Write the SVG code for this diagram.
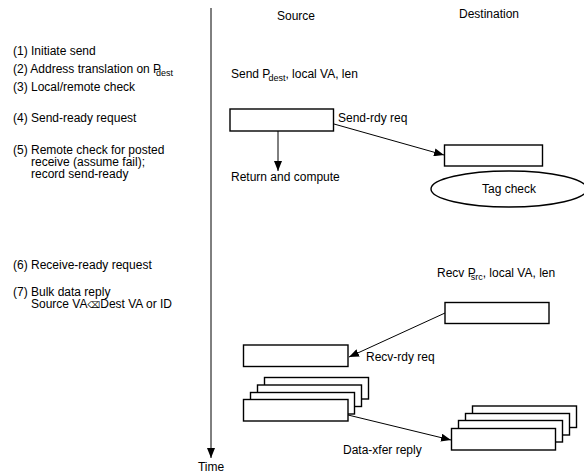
<svg xmlns="http://www.w3.org/2000/svg" width="584" height="474" viewBox="0 0 584 474">
<defs>
<marker id="arr" markerUnits="userSpaceOnUse" markerWidth="10" markerHeight="8" refX="10" refY="4" orient="auto">
<path d="M0,0 L10,4 L0,8 Z" fill="#000"/>
</marker>
<style>
text{font-family:"Liberation Sans",Arial,sans-serif;font-size:12px;fill:#000}
.sub{font-size:9px}
.box{fill:#fff;stroke:#000;stroke-width:1.4}
.ln{fill:none;stroke:#000;stroke-width:1}
</style>
</defs>
<rect width="584" height="474" fill="#fff"/>
<g id="headers">
<text x="296" y="20" text-anchor="middle">Source</text>
<text x="489" y="18" text-anchor="middle">Destination</text>
</g>
<g id="steps">
<text x="13" y="55">(1) Initiate send</text>
<text x="13" y="73">(2) Address translation on P<tspan class="sub" dx="-5" dy="3">dest</tspan></text>
<text x="13" y="91">(3) Local/remote check</text>
<text x="13" y="122">(4) Send-ready request</text>
<text x="13" y="154">(5) Remote check for posted</text>
<text x="31" y="166">receive (assume fail);</text>
<text x="31" y="178">record send-ready</text>
<text x="13" y="269">(6) Receive-ready request</text>
<text x="13" y="296">(7) Bulk data reply</text>
<text x="31" y="308">Source VA<tspan font-family="DejaVu Sans" font-size="9">⌫</tspan>Dest VA or ID</text>
</g>
<g id="time">
<text x="211" y="471" text-anchor="middle">Time</text>
</g>
<g id="send-label">
<text x="231" y="78">Send P<tspan class="sub" dx="-2" dy="3">dest</tspan><tspan dy="-3">, local VA, len</tspan></text>
</g>
<g id="src-box1">
<rect class="box" x="230" y="109" width="103.5" height="22"/>
</g>
<g id="return-label">
<text x="231" y="181">Return and compute</text>
</g>
<g id="dst-box1">
<rect class="box" x="444.5" y="145" width="98" height="21"/>
</g>
<g id="tag-check">
<ellipse class="box" cx="509" cy="189" rx="78" ry="18"/>
<text x="509" y="193" text-anchor="middle">Tag check</text>
</g>
<g id="recv-label">
<text x="437" y="277">Recv P<tspan class="sub" dx="-5" dy="3">src</tspan><tspan dy="-3">, local VA, len</tspan></text>
</g>
<g id="dst-box2">
<rect class="box" x="445" y="302.5" width="104" height="21"/>
</g>
<g id="src-box2">
<rect class="box" x="243.5" y="345" width="104.5" height="21.5"/>
</g>
<g id="src-stack">
<rect class="box" x="264.5" y="377.5" width="104" height="21.5"/>
<rect class="box" x="257.5" y="385" width="104" height="21.5"/>
<rect class="box" x="250.5" y="392.5" width="104" height="21.5"/>
<rect class="box" x="243.5" y="399.5" width="104.5" height="21.5"/>
</g>
<g id="dst-stack">
<rect class="box" x="472.5" y="406" width="104" height="21.5"/>
<rect class="box" x="465.5" y="413.5" width="104" height="21.5"/>
<rect class="box" x="458.5" y="420.5" width="104" height="21.5"/>
<rect class="box" x="451.5" y="428.5" width="104" height="21.5"/>
</g>
<g id="connectors">
<line class="ln" x1="211" y1="8" x2="211" y2="458" marker-end="url(#arr)"/>
<line class="ln" x1="278" y1="131" x2="278" y2="171" marker-end="url(#arr)"/>
<line class="ln" x1="334" y1="124" x2="444" y2="155" marker-end="url(#arr)"/>
<line class="ln" x1="445" y1="313" x2="349" y2="357" marker-end="url(#arr)"/>
<line class="ln" x1="348" y1="415" x2="451" y2="440" marker-end="url(#arr)"/>
</g>
<g id="edge-labels">
<text x="338" y="122">Send-rdy req</text>
<text x="366" y="361">Recv-rdy req</text>
<text x="343" y="454">Data-xfer reply</text>
</g>
</svg>
